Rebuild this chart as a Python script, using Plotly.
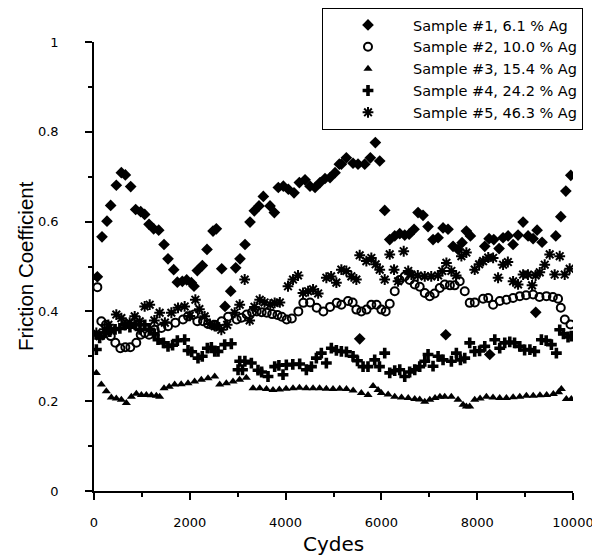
import plotly.graph_objects as go

# ---------------- data ----------------
names = ["Sample #1, 6.1 % Ag", "Sample #2, 10.0 % Ag", "Sample #3, 15.4 % Ag",
         "Sample #4, 24.2 % Ag", "Sample #5, 46.3 % Ag"]

s1_x = [70, 167, 271, 348, 466, 571, 654, 766, 870, 975, 1058, 1149, 1246, 1351, 1462, 1545, 1664, 1740,
        1844, 1935, 2032, 2088, 2157, 2262, 2359, 2485, 2554, 2666, 2735, 2854, 2958, 3048, 3153, 3257,
        3347, 3445, 3535, 3675, 3765, 3848, 3953, 4057, 4176, 4287, 4406, 4510, 4615, 4719, 4823, 4928,
        5032, 5122, 5164, 5268, 5408, 5512, 5652, 5769, 5874, 5965, 6069, 6174, 6278, 6383, 6487, 6580,
        6682, 6765, 6869, 6974, 7078, 7183, 7287, 7391, 7496, 7600, 7684, 7774, 7858, 8158, 8248, 8346,
        8457, 8540, 8645, 8749, 8853, 8958, 9062, 9167, 9250, 9354, 9641, 9745, 9850, 9954,
        5547, 7344, 9222, 8262]
s1_y = [0.477, 0.566, 0.601, 0.636, 0.681, 0.709, 0.704, 0.678, 0.627, 0.622, 0.616, 0.594, 0.584, 0.581,
        0.549, 0.517, 0.493, 0.465, 0.467, 0.470, 0.464, 0.456, 0.491, 0.502, 0.538, 0.579, 0.584, 0.495,
        0.411, 0.445, 0.497, 0.517, 0.549, 0.599, 0.624, 0.635, 0.656, 0.635, 0.620, 0.676, 0.679, 0.672,
        0.664, 0.687, 0.693, 0.679, 0.676, 0.687, 0.696, 0.698, 0.709, 0.728, 0.728, 0.742, 0.730, 0.728,
        0.728, 0.742, 0.776, 0.735, 0.625, 0.560, 0.568, 0.573, 0.570, 0.572, 0.583, 0.620, 0.614, 0.589,
        0.560, 0.564, 0.586, 0.583, 0.545, 0.538, 0.553, 0.579, 0.568, 0.545, 0.562, 0.560, 0.540, 0.564,
        0.568, 0.549, 0.570, 0.599, 0.568, 0.562, 0.581, 0.554, 0.568, 0.611, 0.668, 0.703,
        0.339, 0.348, 0.398, 0.304]

s2_x = [70, 153, 250, 350, 445, 550, 654, 758, 883, 975, 1060, 1149, 1267, 1406, 1545, 1698, 1858, 1963,
        2088, 2157, 2276, 2380, 2520, 2666, 2800, 2980, 3080, 3188, 3300, 3397, 3500, 3606, 3720, 3830,
        3920, 4023, 4130, 4266, 4370, 4510, 4649, 4788, 4928, 5067, 5164, 5303, 5400, 5477, 5581, 5690,
        5790, 5900, 5999, 6090, 6174, 6278, 6380, 6487, 6590, 6696, 6800, 6905, 7009, 7110, 7218, 7322,
        7430, 7530, 7635, 7740, 7844, 7950, 8123, 8230, 8332, 8471, 8610, 8749, 8889, 9020, 9167, 9300,
        9445, 9580, 9688, 9745, 9829, 9947]
s2_y = [0.454, 0.378, 0.370, 0.345, 0.330, 0.318, 0.320, 0.320, 0.330, 0.348, 0.352, 0.348, 0.359, 0.363,
        0.367, 0.375, 0.382, 0.389, 0.393, 0.378, 0.378, 0.372, 0.370, 0.378, 0.388, 0.382, 0.386, 0.393,
        0.398, 0.400, 0.398, 0.397, 0.394, 0.392, 0.388, 0.382, 0.384, 0.400, 0.419, 0.420, 0.408, 0.400,
        0.410, 0.419, 0.415, 0.423, 0.420, 0.404, 0.400, 0.404, 0.415, 0.415, 0.404, 0.400, 0.417, 0.445,
        0.470, 0.478, 0.470, 0.460, 0.455, 0.441, 0.434, 0.440, 0.452, 0.460, 0.458, 0.458, 0.467, 0.445,
        0.419, 0.420, 0.428, 0.430, 0.415, 0.423, 0.426, 0.430, 0.434, 0.436, 0.4375, 0.432, 0.434, 0.432,
        0.428, 0.408, 0.382, 0.371]

s3_x = [49, 153, 257, 362, 466, 571, 675, 780, 884, 989, 1093, 1197, 1302, 1371, 1462, 1570, 1684, 1820,
        1963, 2100, 2241, 2380, 2520, 2624, 2763, 2902, 3040, 3180, 3320, 3460, 3600, 3737, 3870, 4010,
        4155, 4290, 4430, 4573, 4710, 4850, 4990, 5130, 5270, 5410, 5581, 5721, 5826, 5930, 5999, 6140,
        6278, 6420, 6560, 6696, 6800, 6905, 7010, 7120, 7222, 7322, 7460, 7600, 7705, 7774, 7844, 7948,
        8060, 8192, 8330, 8470, 8610, 8750, 8889, 9027, 9170, 9310, 9450, 9590, 9700, 9757, 9861, 9965]
s3_y = [0.263, 0.237, 0.222, 0.208, 0.206, 0.203, 0.196, 0.210, 0.2165, 0.214, 0.214, 0.213, 0.212, 0.210,
        0.229, 0.232, 0.237, 0.238, 0.240, 0.244, 0.248, 0.251, 0.255, 0.237, 0.240, 0.244, 0.248, 0.252,
        0.229, 0.229, 0.227, 0.225, 0.226, 0.228, 0.229, 0.230, 0.229, 0.229, 0.229, 0.228, 0.227, 0.228,
        0.227, 0.224, 0.218, 0.214, 0.234, 0.225, 0.218, 0.215, 0.210, 0.208, 0.207, 0.205, 0.204, 0.199,
        0.203, 0.207, 0.210, 0.210, 0.210, 0.203, 0.192, 0.188, 0.188, 0.203, 0.206, 0.210, 0.208, 0.207,
        0.207, 0.209, 0.210, 0.212, 0.212, 0.213, 0.214, 0.216, 0.220, 0.227, 0.205, 0.205]

s4_x = [49, 118, 222, 330, 440, 540, 650, 750, 860, 960, 1060, 1160, 1260, 1336, 1450, 1545, 1640, 1740,
        1893, 1963, 2040, 2171, 2260, 2366, 2450, 2520, 2589, 2728, 2867, 3007, 3042, 3100, 3150, 3285,
        3424, 3500, 3633, 3772, 3860, 3946, 4015, 4150, 4294, 4433, 4540, 4642, 4746, 4851, 4955, 5060,
        5164, 5270, 5408, 5500, 5617, 5720, 5860, 5960, 6069, 6174, 6278, 6383, 6487, 6590, 6696, 6800,
        6905, 6974, 7078, 7183, 7287, 7461, 7565, 7650, 7740, 7844, 7948, 8050, 8158, 8367, 8470, 8575,
        8680, 8780, 8889, 8990, 9100, 9201, 9340, 9440, 9549, 9653, 9723, 9800, 9896, 9965]
s4_y = [0.315, 0.341, 0.352, 0.355, 0.360, 0.362, 0.370, 0.365, 0.370, 0.360, 0.370, 0.360, 0.350, 0.337,
        0.330, 0.322, 0.325, 0.335, 0.337, 0.313, 0.310, 0.296, 0.300, 0.318, 0.320, 0.311, 0.311, 0.326,
        0.328, 0.270, 0.289, 0.270, 0.289, 0.285, 0.269, 0.265, 0.255, 0.277, 0.280, 0.259, 0.281, 0.282,
        0.283, 0.270, 0.277, 0.296, 0.307, 0.285, 0.318, 0.313, 0.311, 0.310, 0.300, 0.290, 0.277, 0.277,
        0.292, 0.277, 0.307, 0.263, 0.268, 0.270, 0.255, 0.265, 0.270, 0.277, 0.289, 0.304, 0.278, 0.300,
        0.292, 0.289, 0.307, 0.292, 0.296, 0.330, 0.311, 0.312, 0.322, 0.337, 0.318, 0.330, 0.332, 0.330,
        0.322, 0.314, 0.315, 0.311, 0.337, 0.335, 0.326, 0.307, 0.359, 0.350, 0.343, 0.345]

s5_x = [49, 120, 222, 300, 362, 466, 571, 650, 745, 850, 954, 1058, 1163, 1260, 1371, 1480, 1615, 1754,
        1893, 2000, 2116, 2200, 2310, 2420, 2520, 2554, 2658, 2780, 2937, 3042, 3146, 3250, 3350, 3460,
        3560, 3680, 3772, 3880, 4050, 4155, 4259, 4363, 4470, 4573, 4680, 4851, 4950, 5060, 5164, 5268,
        5373, 5477, 5547, 5686, 5790, 5880, 5965, 6069, 6174, 6264, 6348, 6466, 6560, 6626, 6760, 6905,
        7040, 7183, 7270, 7357, 7461, 7560, 7670, 7774, 7948, 8040, 8123, 8230, 8332, 8436, 8540, 8640,
        8749, 8853, 8958, 9060, 9145, 9220, 9306, 9410, 9514, 9618, 9723, 9827, 9931]
s5_y = [0.352, 0.345, 0.360, 0.370, 0.359, 0.393, 0.385, 0.370, 0.375, 0.389, 0.378, 0.411, 0.415, 0.380,
        0.397, 0.375, 0.397, 0.408, 0.411, 0.390, 0.426, 0.405, 0.389, 0.372, 0.367, 0.367, 0.359, 0.370,
        0.397, 0.415, 0.471, 0.380, 0.410, 0.426, 0.420, 0.415, 0.419, 0.420, 0.456, 0.471, 0.480, 0.441,
        0.445, 0.449, 0.440, 0.475, 0.478, 0.464, 0.493, 0.490, 0.478, 0.471, 0.525, 0.512, 0.519, 0.505,
        0.493, 0.471, 0.527, 0.493, 0.467, 0.534, 0.490, 0.482, 0.480, 0.478, 0.478, 0.480, 0.490, 0.508,
        0.490, 0.480, 0.523, 0.531, 0.493, 0.505, 0.512, 0.520, 0.519, 0.475, 0.504, 0.510, 0.467, 0.460,
        0.482, 0.482, 0.458, 0.480, 0.487, 0.504, 0.527, 0.482, 0.523, 0.482, 0.495]

x_range = [0, 10000]
y_range = [0, 1]
x_tick_vals = [0, 2000, 4000, 6000, 8000, 10000]
x_tick_text = ["0", "2000", "4000", "6000", "8000", "10000"]
y_tick_vals = [0, 0.2, 0.4, 0.6, 0.8, 1]
y_tick_text = ["0", "0.2", "0.4", "0.6", "0.8", "1"]
x_minor, y_minor = 1000, 0.1
x_title, y_title = "Cydes", "Friction Coefficient"

# ---------------- figure ----------------
series = [
    (s1_x, s1_y, dict(symbol="diamond", size=9, color="black")),
    (s2_x, s2_y, dict(symbol="circle-open", size=8, color="black", line=dict(width=2, color="black"))),
    (s3_x, s3_y, dict(symbol="triangle-up", size=8, color="black")),
    (s4_x, s4_y, dict(symbol="cross", size=9, color="black")),
    (s5_x, s5_y, dict(symbol="asterisk-open", size=9, color="black", line=dict(width=2, color="black"))),
]

fig = go.Figure()
for i, (xs, ys, mk) in enumerate(series):
    fig.add_trace(go.Scatter(x=xs, y=ys, mode="markers", name=names[i], marker=mk,
                             legendgroup=f"g{i}"))

W, H = 592, 555
L, R, T, B = 94, 5, 5, 64
plot_w = W - L - R
plot_h = H - T - B
x_dom_end = (573 - L) / plot_w
y_dom_end = (H - B - 42) / plot_h

tick_font = dict(family="DejaVu Sans", size=13, color="black")

fig.update_layout(
    template="none",
    width=W, height=H,
    margin=dict(l=L, r=R, t=T, b=B),
    paper_bgcolor="white", plot_bgcolor="white",
    xaxis=dict(range=x_range, domain=[0, x_dom_end], automargin=False,
               showline=True, linecolor="black", linewidth=1.5, showgrid=False, zeroline=False,
               tickmode="array", tickvals=x_tick_vals, ticktext=x_tick_text,
               ticks="outside", ticklen=7, tickwidth=2, tickcolor="black",
               ticklabelstandoff=12, ticklabeloverflow="allow", tickfont=tick_font,
               minor=dict(tickmode="linear", tick0=0, dtick=x_minor, ticklen=4, tickwidth=2,
                          tickcolor="black", ticks="outside", showgrid=False)),
    yaxis=dict(range=y_range, domain=[0, y_dom_end], automargin=False,
               showline=True, linecolor="black", linewidth=1.5, showgrid=False, zeroline=False,
               tickmode="array", tickvals=y_tick_vals, ticktext=y_tick_text,
               ticks="outside", ticklen=7, tickwidth=2, tickcolor="black",
               ticklabelstandoff=24, ticklabeloverflow="allow", tickfont=tick_font,
               minor=dict(tickmode="linear", tick0=0, dtick=y_minor, ticklen=4, tickwidth=2,
                          tickcolor="black", ticks="outside", showgrid=False)),
    legend=dict(x=(322 - L) / plot_w, xanchor="left", y=(H - B - 8) / plot_h, yanchor="top",
                bordercolor="black", borderwidth=1, bgcolor="white",
                font=dict(family="DejaVu Sans", size=14.5, color="black"),
                itemwidth=80, tracegroupgap=1.5, traceorder="normal"),
    showlegend=True,
    annotations=[
        dict(text=y_title, xref="paper", yref="paper", x=(25 - L) / plot_w, y=(H - B - 266) / plot_h,
             textangle=-90, showarrow=False, xanchor="center", yanchor="middle",
             font=dict(family="Liberation Sans", size=20.5, color="black")),
        dict(text=x_title, xref="paper", yref="paper", x=(333.5 - L) / plot_w, y=(H - B - 544) / plot_h,
             showarrow=False, xanchor="center", yanchor="middle",
             font=dict(family="DejaVu Sans", size=20, color="black")),
    ],
)

fig.write_html("out.html", config={"displayModeBar": False},
               post_script="document.body.style.margin='0';")
